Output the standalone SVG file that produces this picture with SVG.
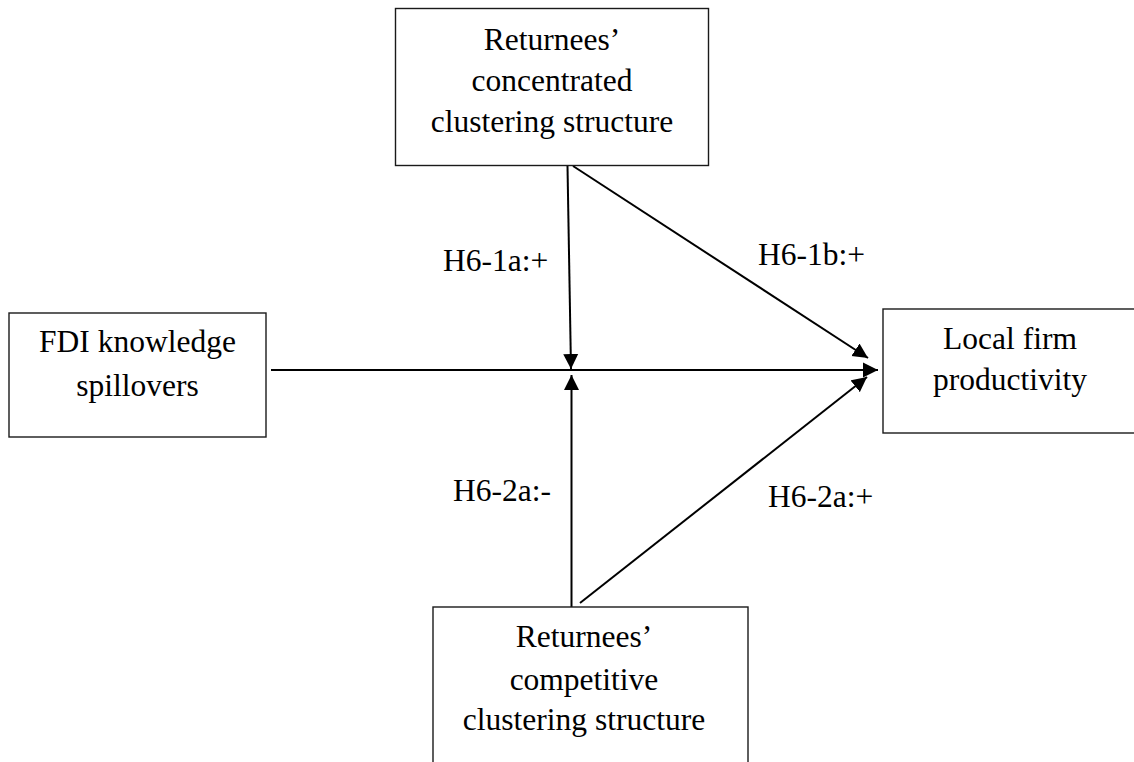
<svg xmlns="http://www.w3.org/2000/svg" width="1134" height="762" viewBox="0 0 1134 762">
<style>
.box{fill:#fff;stroke:#1a1a1a;stroke-width:1.4}
.t{font-family:"Liberation Serif","Times New Roman",serif;font-size:31.5px;fill:#000}
.c{text-anchor:middle}
.ln{stroke:#000;stroke-width:2;fill:none}
</style>
<defs>
<marker id="ah" markerUnits="userSpaceOnUse" markerWidth="16" markerHeight="16" viewBox="0 0 16 16" refX="15" refY="8" orient="auto">
<path d="M0,0.5 L15,8 L0,15.5 Z" fill="#000"/>
</marker>
</defs>
<rect width="1134" height="762" fill="#fff"/>
<g id="connectors">
<line class="ln" x1="271" y1="370" x2="878" y2="370" marker-end="url(#ah)"/>
<line class="ln" x1="567.5" y1="166" x2="571" y2="369" marker-end="url(#ah)"/>
<line class="ln" x1="571.5" y1="607" x2="571.5" y2="375" marker-end="url(#ah)"/>
<line class="ln" x1="573" y1="166" x2="868" y2="358" marker-end="url(#ah)"/>
<line class="ln" x1="580" y1="603" x2="867" y2="377" marker-end="url(#ah)"/>
<text class="t" x="443" y="271">H6-1a:+</text>
<text class="t" x="758" y="265">H6-1b:+</text>
<text class="t" x="453" y="501">H6-2a:-</text>
<text class="t" x="768" y="507">H6-2a:+</text>
</g>
<g id="node-concentrated">
<rect class="box" x="395.5" y="8.5" width="313" height="157"/>
<text class="t c" x="552" y="50">Returnees’</text>
<text class="t c" x="552" y="91">concentrated</text>
<text class="t c" x="552" y="132">clustering structure</text>
</g>
<g id="node-fdi">
<rect class="box" x="9" y="313" width="257" height="124"/>
<text class="t c" x="137.5" y="352">FDI knowledge</text>
<text class="t c" x="137.5" y="396">spillovers</text>
</g>
<g id="node-productivity">
<rect class="box" x="883" y="309" width="260" height="124"/>
<text class="t c" x="1010" y="349">Local firm</text>
<text class="t c" x="1010" y="390">productivity</text>
</g>
<g id="node-competitive">
<rect class="box" x="433" y="607" width="315" height="170"/>
<text class="t c" x="584" y="647">Returnees’</text>
<text class="t c" x="584" y="690">competitive</text>
<text class="t c" x="584" y="730">clustering structure</text>
</g>
</svg>
